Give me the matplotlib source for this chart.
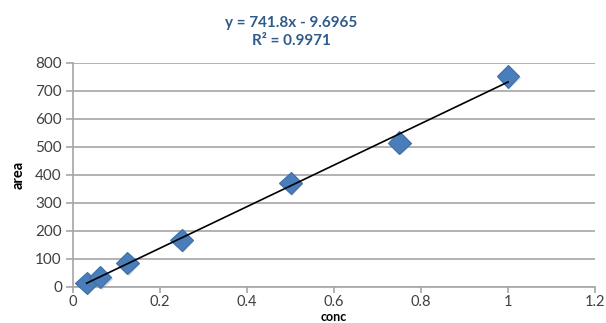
import matplotlib
matplotlib.use("Agg")
import matplotlib.pyplot as plt
import matplotlib.patheffects as pe
import numpy as np

conc = [0.03125, 0.0625, 0.125, 0.25, 0.5, 0.75, 1.0]
area = [15, 35, 86, 168, 372, 516, 752]
slope = 741.8
intercept = -9.6965
r2 = 0.9971
x_ticks = [0, 0.2, 0.4, 0.6, 0.8, 1.0, 1.2]
x_tick_labels = ["0", "0.2", "0.4", "0.6", "0.8", "1", "1.2"]
y_ticks = [0, 100, 200, 300, 400, 500, 600, 700, 800]

plt.rcParams['font.family'] = ['Lato', 'DejaVu Sans']

fig = plt.figure(figsize=(6.06, 3.23), dpi=100)
ax = fig.add_axes([73/606, 1-287/323, 522/606, 224/323])

ax.set_xlim(0, 1.2)
ax.set_ylim(0, 800)
ax.set_xticks(x_ticks)
ax.set_xticklabels(x_tick_labels)
ax.set_yticks(y_ticks)
ax.grid(axis='y', color='#A6A6A6', linewidth=1.2)
ax.set_axisbelow(True)
for s in ['top', 'right']:
    ax.spines[s].set_visible(False)
for s in ['left', 'bottom']:
    ax.spines[s].set_color('#A6A6A6')
    ax.spines[s].set_linewidth(1.2)
ax.tick_params(axis='both', direction='out', length=5, width=1.2, color='#A6A6A6',
               labelsize=11, labelcolor='#404040', pad=3)
ax.tick_params(axis='x', pad=1.5, labelsize=10.5, length=4)

ax.plot(conc, area, linestyle='none', marker='D', markersize=11.5,
        markerfacecolor='#4A7EBB', markeredgecolor='#3D6DA8', markeredgewidth=0.8,
        path_effects=[pe.SimplePatchShadow(offset=(1.0, -1.0), shadow_rgbFace='#8F8F8F', alpha=0.4), pe.Normal()],
        zorder=3, clip_on=False)

xs = np.array([min(conc), max(conc)])
ax.plot(xs, slope * xs + intercept, color='black', linewidth=1.2, zorder=4)

ax.set_ylabel('area', fontsize=10.5, fontweight='bold', color='black', labelpad=7)
fig.text(334/606, 0.2/323, 'conc', ha='center', va='bottom',
         fontsize=9, fontweight='bold', color='black')

fig.text(291/606, 1-23/323, f"y = {slope}x - {abs(intercept)}", ha='center', va='center',
         fontsize=11, fontweight='bold', color='#2E5A8C')
fig.text(291/606, 1-41/323, f"R² = {r2}", ha='center', va='center',
         fontsize=11, fontweight='bold', color='#2E5A8C')

fig.savefig('out.png', dpi=100)
